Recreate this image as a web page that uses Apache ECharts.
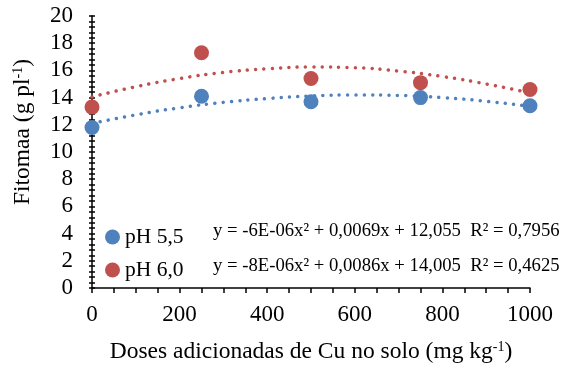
<!DOCTYPE html>
<html style="height: 100%">
  <head>
    <meta charset="utf-8" />
  </head>
  <body style="height: 100%; margin: 0; background: #fff">
    <div id="container" style="width: 567px; height: 369px"></div>

    <script
      type="text/javascript"
      src="https://cdn.jsdelivr.net/npm/echarts@6/dist/echarts.min.js"
    ></script>

    <script type="text/javascript">
      var dom = document.getElementById("container");
      var myChart = echarts.init(dom);

      // doses (mg/kg)
      var doses = [0, 250, 500, 750, 1000];
      var ph55 = [11.8, 14.1, 13.7, 14.0, 13.4];
      var ph60 = [13.3, 17.3, 15.4, 15.1, 14.6];

      // trend lines, every 100 mg/kg
      var trendX = [0, 100, 200, 300, 400, 500, 600, 700, 800, 900, 1000];
      var trend55 = [12.1, 12.73, 13.25, 13.65, 13.93, 14.12, 14.2, 14.16, 14.0, 13.73, 13.35];
      var trend60 = [14.05, 14.8, 15.4, 15.85, 16.12, 16.25, 16.2, 15.95, 15.55, 15.0, 14.35];

      var eq55 = "y = -6E-06x² + 0,0069x + 12,055  R² = 0,7956";
      var eq60 = "y = -8E-06x² + 0,0086x + 14,005  R² = 0,4625";

      var font = "Liberation Serif";
      var blue = "#4F81BD";
      var red = "#C0504D";

      function pairs(xs, ys) {
        return xs.map(function (x, i) {
          return [x, ys[i]];
        });
      }

      var supRich = {
        sup: { fontSize: 14, fontFamily: font, color: "#000", verticalAlign: "top", lineHeight: 24 }
      };

      option = {
        backgroundColor: "#fff",
        animation: false,
        textStyle: { fontFamily: font },
        grid: { left: 92, right: 37, top: 16, bottom: 79 },
        legend: {
          orient: "vertical",
          left: 100,
          top: 221,
          itemGap: 11,
          itemWidth: 15,
          itemHeight: 15,
          icon: "circle",
          textStyle: { fontFamily: font, fontSize: 21.5, color: "#000" },
          data: ["pH 5,5", "pH 6,0"]
        },
        xAxis: {
          type: "value",
          min: 0,
          max: 1000,
          interval: 200,
          name: "Doses adicionadas de Cu no solo (mg kg{sup|-1})",
          nameLocation: "middle",
          nameGap: 52,
          nameTextStyle: { fontFamily: font, fontSize: 23.5, color: "#000", rich: supRich },
          axisLine: { lineStyle: { color: "#000", width: 1.5 } },
          axisTick: { show: true, length: 5, lineStyle: { color: "#000", width: 1.5 } },
          minorTick: { show: true, splitNumber: 4, length: 5, lineStyle: { color: "#000", width: 1.5 } },
          axisLabel: {
            fontFamily: font,
            fontSize: 23,
            color: "#000",
            margin: 15,
            formatter: function (v) {
              return String(v);
            }
          },
          splitLine: { show: false }
        },
        yAxis: [
          {
            type: "value",
            min: 0,
            max: 20,
            interval: 2,
            name: "Fitomaa (g pl{sup|-1})",
            nameLocation: "middle",
            nameGap: 57,
            nameTextStyle: { fontFamily: font, fontSize: 23.5, color: "#000", rich: supRich, padding: [0, 0, 0, 40] },
            axisLine: { show: true, lineStyle: { color: "#000", width: 1.5 } },
            axisTick: { show: true, length: 3, lineStyle: { color: "#000", width: 1.5 } },
            minorTick: { show: true, splitNumber: 5, length: 3, lineStyle: { color: "#000", width: 1.5 } },
            axisLabel: { fontFamily: font, fontSize: 23, color: "#000", margin: 19 },
            splitLine: { show: false }
          },
          {
            // inner half of the crossing ticks
            type: "value",
            position: "left",
            min: 0,
            max: 20,
            interval: 2,
            axisLine: { show: false },
            axisTick: { show: true, inside: true, length: 3, lineStyle: { color: "#000", width: 1.5 } },
            minorTick: { show: true, splitNumber: 5, length: 3, lineStyle: { color: "#000", width: 1.5 } },
            axisLabel: { show: false },
            splitLine: { show: false }
          }
        ],
        graphic: [
          {
            type: "text",
            left: 213,
            top: 222,
            style: { text: eq55, font: "18.7px '" + font + "'", fill: "#000" }
          },
          {
            type: "text",
            left: 213,
            top: 257,
            style: { text: eq60, font: "18.7px '" + font + "'", fill: "#000" }
          }
        ],
        series: [
          {
            name: "pH 5,5",
            type: "scatter",
            symbolSize: 15,
            itemStyle: { color: blue, opacity: 1 },
            data: pairs(doses, ph55),
            z: 2
          },
          {
            name: "pH 6,0",
            type: "scatter",
            symbolSize: 15,
            itemStyle: { color: red, opacity: 1 },
            data: pairs(doses, ph60),
            z: 2
          },
          {
            name: "trend 5,5",
            type: "line",
            smooth: true,
            symbol: "none",
            silent: true,
            lineStyle: { color: blue, width: 3.5, type: [0.01, 8.3], cap: "round" },
            data: pairs(trendX, trend55),
            z: 3
          },
          {
            name: "trend 6,0",
            type: "line",
            smooth: true,
            symbol: "none",
            silent: true,
            lineStyle: { color: red, width: 3.5, type: [0.01, 8.3], cap: "round" },
            data: pairs(trendX, trend60),
            z: 3
          }
        ]
      };

      option && myChart.setOption(option);
    </script>
  </body>
</html>
